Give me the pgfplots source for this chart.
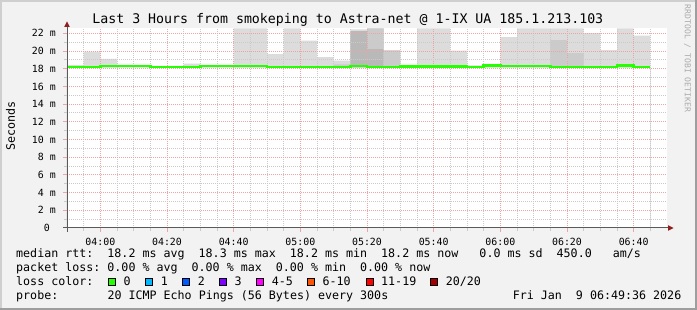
\documentclass[border=0pt]{standalone}
\usepackage{pgfplots}
\pgfplotsset{compat=1.18}
\usepackage{pgfplotstable}
\usepackage{fontspec}
\setmainfont{DejaVu Sans Mono}
\frenchspacing
\definecolor{bg}{HTML}{F2F2F2}
\definecolor{shadeA}{HTML}{CFCFCF}
\definecolor{shadeB}{HTML}{9E9E9E}
\definecolor{mgrid}{HTML}{EEA4A4}
\definecolor{ggrid}{HTML}{CACACA}
\definecolor{axiscol}{HTML}{5A5A5A}
\definecolor{arrowcol}{HTML}{8F1F1F}
\definecolor{medgreen}{HTML}{26FF00}
\definecolor{smokeL}{HTML}{DCDCDC}
\definecolor{smokeM}{HTML}{CBCBCB}
\definecolor{smokeD}{HTML}{B9B9B9}
\definecolor{lc1}{HTML}{00B8FF}
\definecolor{lc2}{HTML}{0059FF}
\definecolor{lc3}{HTML}{7E00FF}
\definecolor{lc4}{HTML}{FF00FF}
\definecolor{lc6}{HTML}{FF5500}
\definecolor{lc11}{HTML}{FF0000}
\definecolor{lc20}{HTML}{A10000}
\definecolor{rrdtxt}{HTML}{ABABAB}

\pgfplotstableread{
t   light  med    dark   base   median
230 18.42  18.12  18.12  18.12  18.20
235 19.93  18.12  18.12  18.12  18.20
240 19.10  18.12  18.12  18.12  18.30
245 18.12  18.12  18.12  18.12  18.30
250 18.12  18.12  18.12  18.12  18.30
255 18.12  18.12  18.12  18.12  18.20
260 18.12  18.12  18.12  18.12  18.20
265 18.57  18.12  18.12  18.12  18.20
270 18.12  18.12  18.12  18.12  18.30
275 18.12  18.12  18.12  18.12  18.30
280 22.55  18.12  18.12  18.12  18.30
285 22.55  18.12  18.12  18.12  18.30
290 19.66  18.12  18.12  18.12  18.20
295 22.55  18.12  18.12  18.12  18.20
300 21.17  18.12  18.12  18.12  18.20
305 19.32  18.12  18.12  18.12  18.20
310 18.90  18.50  18.12  18.12  18.20
315 22.45  22.26  22.26  18.12  18.28
320 22.55  22.55  20.20  18.12  18.20
325 20.08  20.08  18.12  18.12  18.20
330 18.12  18.12  18.12  18.12  18.25
335 22.55  18.12  18.12  18.12  18.25
340 22.55  18.12  18.12  18.12  18.25
345 20.04  18.12  18.12  18.12  18.25
350 18.38  18.12  18.12  18.12  18.20
355 18.12  18.12  18.12  18.12  18.35
360 21.58  18.12  18.12  18.12  18.28
365 22.55  18.12  18.12  18.12  18.28
370 22.55  18.12  18.12  18.12  18.28
375 22.55  21.24  18.12  18.12  18.20
380 22.55  19.77  18.12  18.12  18.20
385 22.03  18.12  18.12  18.12  18.20
390 20.10  18.12  18.12  18.12  18.20
395 22.55  18.12  18.12  18.12  18.35
400 21.73  18.12  18.12  18.12  18.22
405 21.73  18.12  18.12  18.12  18.22
}\smoke

\begin{document}
\begin{tikzpicture}
\path[use as bounding box] (0pt,0pt) rectangle (697pt,310pt);
\fill[bg] (0pt,0pt) rectangle (697pt,310pt);
\fill[shadeA] (0pt,308pt) rectangle (697pt,310pt);
\fill[shadeA] (0pt,0pt) rectangle (2pt,310pt);
\fill[shadeB] (0pt,0pt) rectangle (697pt,2pt);
\fill[shadeB] (695pt,0pt) rectangle (697pt,310pt);

\begin{axis}[
  at={(67pt,82pt)}, anchor=south west,
  scale only axis, width=600pt, height=200pt,
  xmin=230, xmax=410, ymin=0, ymax=22.6,
  axis line style={draw=none},
  axis on top,
  axis background/.style={fill=white},
  xtick={240,260,...,400},
  xticklabels={04:00,04:20,04:40,05:00,05:20,05:40,06:00,06:20,06:40},
  minor xtick={235,245,250,255,265,270,275,285,290,295,305,310,315,325,330,335,345,350,355,365,370,375,385,390,395,405},
  ytick={0,2,...,22},
  yticklabels={0~~,2 m,4 m,6 m,8 m,10 m,12 m,14 m,16 m,18 m,20 m,22 m},
  minor ytick={1,3,...,21},
  grid=both,
  major grid style={draw=mgrid, dash pattern=on 1pt off 1pt, line width=1pt},
  minor grid style={draw=ggrid, dash pattern=on 1pt off 1pt, line width=1pt},
  tick align=outside,
  major tick length=4pt, minor tick length=3pt,
  major tick style={draw=mgrid, line width=1pt},
  minor tick style={draw=ggrid, line width=1pt},
  xtick pos=bottom, ytick pos=left,
  every tick label/.append style={font=\fontsize{9.9}{12}\selectfont, inner sep=0pt},
  xticklabel style={anchor=north, yshift=-5.7pt},
  yticklabel style={anchor=east, xshift=-7pt},
]
\addplot[const plot, fill=smokeL, draw=none] table[x=t,y=light]{\smoke} \closedcycle;
\addplot[const plot, fill=smokeM, draw=none] table[x=t,y=med]{\smoke} \closedcycle;
\addplot[const plot, fill=smokeD, draw=none] table[x=t,y=dark]{\smoke} \closedcycle;
\addplot[const plot, fill=white, draw=none] table[x=t,y=base]{\smoke} \closedcycle;
\end{axis}

\begin{axis}[
  at={(67pt,82pt)}, anchor=south west,
  scale only axis, width=600pt, height=200pt,
  xmin=230, xmax=410, ymin=0, ymax=22.6,
  hide axis,
]
\addplot[const plot, draw=medgreen, line width=2.4pt] table[x=t,y=median]{\smoke};
\end{axis}

% axis lines with arrows
\draw[axiscol, line width=1pt] (63pt,82pt) -- (669pt,82pt);
\fill[arrowcol] (668pt,84.8pt) -- (673.5pt,82pt) -- (668pt,79.2pt) -- cycle;
\draw[axiscol, line width=1pt] (67pt,78pt) -- (67pt,284pt);
\fill[arrowcol] (64.2pt,283pt) -- (67pt,288.5pt) -- (69.8pt,283pt) -- cycle;

% title
\node[anchor=base, inner sep=0pt, font=\fontsize{13.26}{16}\selectfont] at (347.8pt,286.3pt)
  {Last 3 Hours from smokeping to Astra-net @ 1-IX UA 185.1.213.103};
% y label
\node[rotate=90, inner sep=0pt, font=\fontsize{11.66}{14}\selectfont] at (10.5pt,184pt) {Seconds};
% rrdtool
\node[rotate=-90, inner sep=0pt, text=rrdtxt, font=\fontsize{8.1}{10}\selectfont] at (687.5pt,251.5pt) {RRDTOOL / TOBI OETIKER};

% legend
\begin{scope}[every node/.style={anchor=base west, inner sep=0pt, font=\fontsize{11.66}{14}\selectfont}]
\node at (16pt,52.2pt) {median rtt:~~18.2 ms avg~~18.3 ms max~~18.2 ms min~~18.2 ms now~~~0.0 ms sd~~450.0~~~am/s};
\node at (16pt,38.3pt) {packet loss:~0.00 \% avg~~0.00 \% max~~0.00 \% min~~0.00 \% now};
\node at (16pt,24.4pt) {loss color:};
\node at (16pt,10.4pt) {probe:};
\node at (107.3pt,10.4pt) {20 ICMP Echo Pings (56 Bytes) every 300s};
\node[anchor=base east] at (681.5pt,10.4pt) {Fri Jan~~9 06:49:36 2026};
\foreach \bx/\lx/\col/\lab in {108.3/123.3/medgreen/0, 145.7/160.7/lc1/1, 182.7/197.7/lc2/2, 219.3/234.3/lc3/3, 256.7/271.7/lc4/4-5, 307.3/322.3/lc6/6-10, 366/381/lc11/11-19, 430.7/445.7/lc20/20\slash 20}{
  \filldraw[fill=\col, draw=black, line width=0.9pt] (\bx pt,24.5pt) rectangle ++(7.2pt,7.0pt);
  \node at (\lx pt,24.4pt) {\lab};
}
\end{scope}
\end{tikzpicture}
\end{document}
